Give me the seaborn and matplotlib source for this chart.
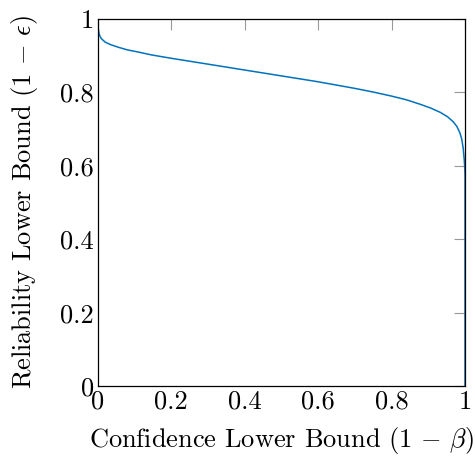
import matplotlib
matplotlib.use("Agg")
import matplotlib.pyplot as plt
import seaborn as sns
import pandas as pd

confidence = [0.0, 0.0, 0.001, 0.003, 0.006, 0.01, 0.02, 0.035, 0.056, 0.08, 0.11, 0.147,
              0.2, 0.25, 0.3, 0.35, 0.4, 0.45, 0.5, 0.55, 0.6, 0.65, 0.7, 0.75, 0.8,
              0.84, 0.877, 0.905, 0.932, 0.952, 0.968, 0.978, 0.986, 0.991, 0.995,
              0.998, 0.9995, 1.0, 1.0]
reliability = [1.0, 0.99, 0.975, 0.962, 0.952, 0.946, 0.937, 0.930, 0.923, 0.916, 0.910, 0.902,
               0.893, 0.885, 0.877, 0.869, 0.861, 0.853, 0.845, 0.837, 0.829, 0.820, 0.811,
               0.801, 0.790, 0.780, 0.768, 0.758, 0.746, 0.734, 0.720, 0.707, 0.690, 0.673,
               0.648, 0.615, 0.590, 0.575, 0.0]
tick_values = [0, 0.2, 0.4, 0.6, 0.8, 1]
tick_labels = ["0", "0.2", "0.4", "0.6", "0.8", "1"]

sns.set_style("white")
plt.rcParams["font.family"] = "serif"
plt.rcParams["font.serif"] = ["cmr10"]
plt.rcParams["mathtext.fontset"] = "cm"
plt.rcParams["axes.unicode_minus"] = False
plt.rcParams["text.color"] = "black"
plt.rcParams["axes.labelcolor"] = "black"
plt.rcParams["xtick.labelcolor"] = "black"
plt.rcParams["ytick.labelcolor"] = "black"

df = pd.DataFrame({"conf": confidence, "rel": reliability})

fig = plt.figure(figsize=(4.75, 4.58), dpi=100)
ax = fig.add_axes([0.206, 0.157, 0.773, 0.8015])
sns.lineplot(data=df, x="conf", y="rel", ax=ax, color="#0072BD", linewidth=1.1,
             sort=False, estimator=None)
ax.set_xlim(0, 1)
ax.set_ylim(0, 1)
ax.set_xticks(tick_values)
ax.set_xticklabels(tick_labels)
ax.set_yticks(tick_values)
ax.set_yticklabels(tick_labels)
ax.tick_params(direction="in", length=8, width=0.8, color="#999999", labelsize=19,
               labelcolor="black", top=True, right=True, pad=3)
for s in ax.spines.values():
    s.set_color("black")
    s.set_linewidth(0.9)
ax.set_xlabel(r"Confidence Lower Bound $(1\,-\,\beta)$", fontsize=19, labelpad=8)
ax.set_ylabel(r"Reliability Lower Bound $(1\,-\,\epsilon)$", fontsize=19, labelpad=14)
fig.savefig("out.png", dpi=100)
